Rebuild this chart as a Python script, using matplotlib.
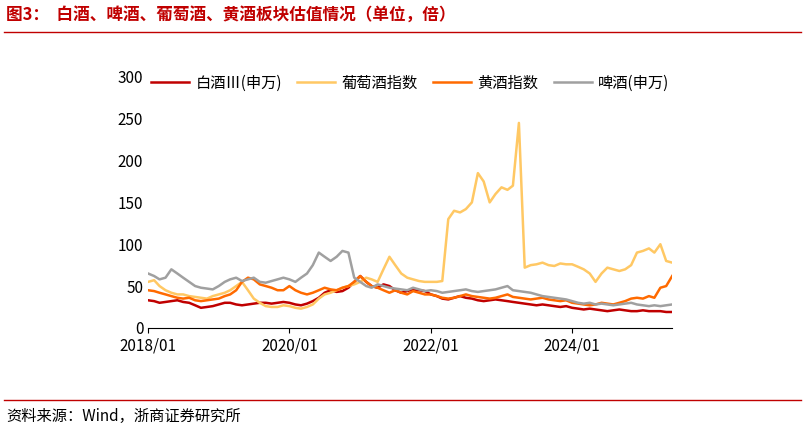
import matplotlib
matplotlib.use("Agg")
import matplotlib.pyplot as plt
import pandas as pd

plt.rcParams['font.family'] = ['Noto Sans CJK SC', 'DejaVu Sans']

dates = pd.date_range("2018-01-01", periods=90, freq="MS")
baijiu = [33,32,30,31,32,33,31,30,27,24,25,26,
          28,30,30,28,27,28,29,30,30,29,30,31,
          30,28,27,29,32,36,42,45,43,44,48,55,
          62,55,50,48,52,50,45,42,44,46,45,44,
          40,38,35,34,36,38,36,35,33,32,33,34,
          33,32,31,30,29,28,27,28,27,26,25,26,
          24,23,22,23,22,21,20,21,22,21,20,20,
          21,20,20,20,19,19]
grape = [55,57,50,45,42,40,40,38,37,36,35,38,
         40,42,45,50,55,45,35,30,26,25,25,27,
         26,24,23,25,28,35,40,42,45,48,50,52,
         55,60,58,55,70,85,75,65,60,58,56,55,
         55,55,56,130,140,138,142,150,185,175,150,160,
         168,165,170,245,72,75,76,78,75,74,77,76,
         76,73,70,65,55,65,72,70,68,70,75,90,
         92,95,90,100,80,78]
huangjiu = [45,44,42,40,38,36,35,36,33,32,33,34,
            35,38,40,45,55,60,58,52,50,48,45,45,
            50,45,42,40,42,45,48,46,45,48,50,55,
            62,55,50,48,45,42,45,42,40,44,42,40,
            40,38,36,35,36,38,40,38,37,36,35,36,
            38,40,37,36,35,34,35,36,34,33,32,33,
            30,29,28,27,28,30,29,28,30,32,35,36,
            35,38,36,48,50,62]
beer = [65,62,58,60,70,65,60,55,50,48,47,46,
        50,55,58,60,56,58,60,55,54,56,58,60,
        58,55,60,65,75,90,85,80,85,92,90,60,
        55,50,48,52,50,48,47,46,45,48,46,44,
        45,44,42,43,44,45,46,44,43,44,45,46,
        48,50,45,44,43,42,40,38,37,36,35,34,
        32,30,29,30,28,29,28,27,28,29,30,28,
        27,26,27,26,27,28]
names = ["白酒Ⅲ(申万)", "葡萄酒指数", "黄酒指数", "啤酒(申万)"]
colors = ["#C00000", "#FFC864", "#FF6A00", "#A0A0A0"]
xticks = ["2018-01-01", "2020-01-01", "2022-01-01", "2024-01-01"]
xticklabels = ["2018/01", "2020/01", "2022/01", "2024/01"]

fig = plt.figure(figsize=(8.05, 4.32), dpi=100)
ax = fig.add_axes([0.184, 0.241, 0.651, 0.581])
for s, n, c in zip([baijiu, grape, huangjiu, beer], names, colors):
    ax.plot(dates, s, color=c, lw=1.8, label=n)
ax.set_ylim(0, 300)
ax.set_yticks(range(0, 301, 50))
ax.set_xlim(pd.Timestamp("2018-01-01"), dates[-1])
ax.set_xticks(pd.to_datetime(xticks))
ax.set_xticklabels(xticklabels)
for sp in ["top", "right", "left"]:
    ax.spines[sp].set_visible(False)
ax.tick_params(axis='y', length=0, labelsize=11)
ax.tick_params(axis='x', labelsize=11, direction='out')
ax.legend(loc="upper center", bbox_to_anchor=(0.5, 1.065), ncol=4, frameon=False,
          fontsize=11, handlelength=2.5, columnspacing=1.0, handletextpad=0.4)

fig.text(0.008, 0.965, "图3：  白酒、啤酒、葡萄酒、黄酒板块估值情况（单位，倍）",
         color="#C00000", fontsize=12, fontweight="bold", va="center")
fig.add_artist(plt.Line2D([0.005, 0.995], [0.925, 0.925], color="#C00000", lw=1))
fig.add_artist(plt.Line2D([0.005, 0.995], [0.075, 0.075], color="#C00000", lw=1))
fig.text(0.008, 0.035, "资料来源：Wind，浙商证券研究所", fontsize=11, va="center")
fig.savefig("out.png", dpi=100)
